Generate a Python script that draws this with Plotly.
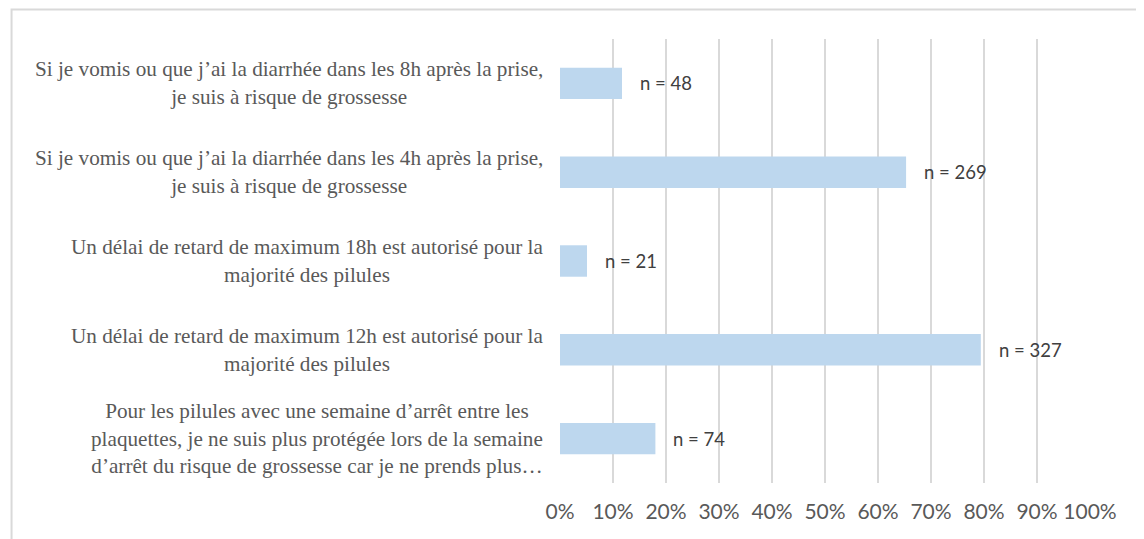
import plotly.graph_objects as go

categories = [
    "Si je vomis ou que j’ai la diarrhée dans les 8h après la prise,<br>je suis à risque de grossesse",
    "Si je vomis ou que j’ai la diarrhée dans les 4h après la prise,<br>je suis à risque de grossesse",
    "Un délai de retard de maximum 18h est autorisé pour la<br>majorité des pilules",
    "Un délai de retard de maximum 12h est autorisé pour la<br>majorité des pilules",
    "Pour les pilules avec une semaine d’arrêt entre les<br>plaquettes, je ne suis plus protégée lors de la semaine<br>d’arrêt du risque de grossesse car je ne prends plus…",
]
percent = [11.7, 65.3, 5.1, 79.4, 18.0]
counts = [48, 269, 21, 327, 74]
tick_values = [0, 10, 20, 30, 40, 50, 60, 70, 80, 90, 100]
tick_labels = ["0%", "10%", "20%", "30%", "40%", "50%", "60%", "70%", "80%", "90%", "100%"]

ids = [f"c{i}" for i in range(len(categories))]

fig = go.Figure()
fig.add_trace(go.Bar(
    x=percent, y=ids, orientation="h",
    marker=dict(color="#BDD7EE", line=dict(width=0)),
    hoverinfo="skip",
))

annotations = []
for cid, lab in zip(ids, categories):
    annotations.append(dict(
        x=0, xref="paper", y=cid, yref="y", text=lab, showarrow=False,
        xanchor="right", yanchor="middle", align="center", xshift=-15,
        font=dict(family="Liberation Serif", size=21.2, color="#595959"),
    ))
for cid, v, n in zip(ids, percent, counts):
    annotations.append(dict(
        x=v, xref="x", y=cid, yref="y", text=f"n = {n}", showarrow=False,
        xanchor="left", yanchor="middle", xshift=16,
        font=dict(family="Lato", size=18.5, color="#404040"),
    ))

fig.update_layout(
    width=1144, height=539,
    margin=dict(l=552, r=62, t=31, b=64),
    paper_bgcolor="white", plot_bgcolor="white",
    showlegend=False,
    bargap=0.646,
    annotations=annotations,
    xaxis=dict(
        range=[0, 100], tickvals=tick_values, ticktext=tick_labels,
        showgrid=True, gridcolor="#D9D9D9", gridwidth=2,
        zeroline=False, showline=False, ticks="",
        ticklabelstandoff=14,
        tickfont=dict(family="Lato", size=21, color="#595959"),
        fixedrange=True,
    ),
    yaxis=dict(
        categoryorder="array", categoryarray=ids[::-1],
        showticklabels=False, showgrid=False, zeroline=False, showline=False,
        ticks="", fixedrange=True,
    ),
    shapes=[dict(
        type="rect", xref="paper", yref="paper",
        x0=-1.0348, x1=1.12, y0=-0.2, y1=1.0665,
        line=dict(color="#D9D9D9", width=2), fillcolor="rgba(0,0,0,0)",
        layer="below",
    )],
)

fig.write_html("out.html")
